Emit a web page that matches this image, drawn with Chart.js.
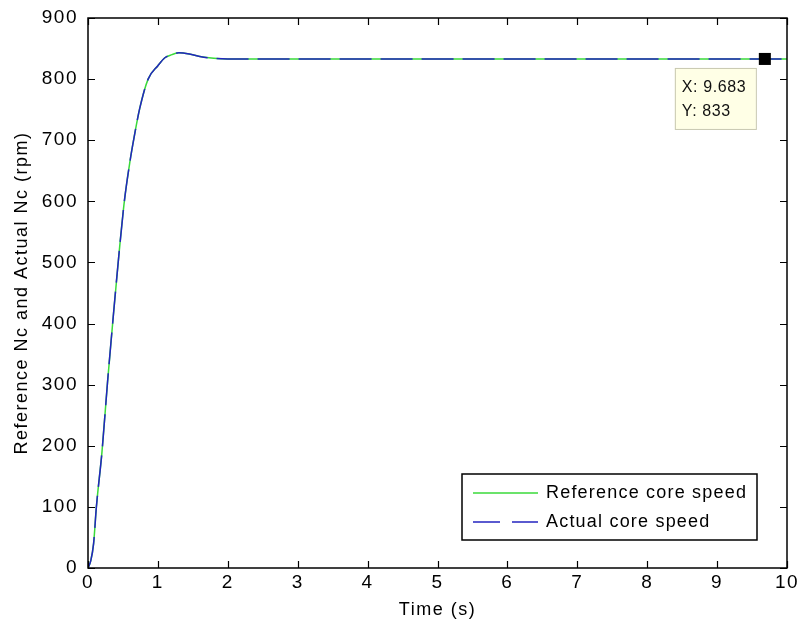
<!DOCTYPE html>
<html>
<head>
<meta charset="utf-8">
<title>Core speed</title>
<script src="https://cdn.jsdelivr.net/npm/chart.js"></script>
<style>
    html, body { margin: 0; padding: 0; background: #fff; }
    #wrap { width: 797px; height: 628px; }
</style>
</head>
<body>
<div id="wrap"><canvas id="speedChart" width="797" height="628"></canvas></div>
<script>
    // values (time in s, speed in rpm)
    const timeValues = [0, 0.04, 0.08, 0.12, 0.2, 0.28, 0.36, 0.44, 0.52, 0.6, 0.66, 0.74, 0.86, 1.0, 1.1, 1.2, 1.3, 1.45, 1.6, 1.8, 2.0, 2.5, 10];
    const referenceSpeed = [0, 12, 40, 100, 190, 305, 410, 510, 600, 665, 705, 752, 800, 822, 835, 840, 843, 841, 837, 834, 833, 833, 833];
    const actualSpeed = [0, 12, 40, 100, 190, 305, 410, 510, 600, 665, 705, 752, 800, 822, 835, 840, 843, 841, 837, 834, 833, 833, 833];
    const tipPoint = { x: 9.683, y: 833 };
    const xTicks = [0, 1, 2, 3, 4, 5, 6, 7, 8, 9, 10];
    const yTicks = [0, 100, 200, 300, 400, 500, 600, 700, 800, 900];
    const seriesLabels = ['Reference core speed', 'Actual core speed'];

    const FONT = '"Liberation Sans", Arial, sans-serif';
    const GREEN = '#3ada3a';
    const BLUE = '#2424c0';

    function toPoints(xs, ys) {
        return xs.map((x, i) => ({ x: x, y: ys[i] }));
    }

    // the old MATLAB text is wider spaced than canvas text
    const spacing = {
        id: 'spacing',
        beforeUpdate(chart) { chart.ctx.letterSpacing = '1.5px'; },
        beforeDraw(chart) { chart.ctx.letterSpacing = '1.5px'; }
    };

    // MATLAB style box: inward ticks on all four sides, legend inside, data tip
    const matlabAxes = {
        id: 'matlabAxes',
        afterDatasetsDraw(chart) {
            const ctx = chart.ctx;
            const a = chart.chartArea;
            const xs = chart.scales.x;
            const ys = chart.scales.y;
            ctx.save();
            ctx.strokeStyle = '#000';
            ctx.lineWidth = 1.5;
            ctx.strokeRect(a.left, a.top, a.right - a.left, a.bottom - a.top);
            ctx.beginPath();
            xTicks.forEach(v => {
                const px = Math.round(xs.getPixelForValue(v)) + 0.5;
                ctx.moveTo(px, a.bottom); ctx.lineTo(px, a.bottom - 7);
                ctx.moveTo(px, a.top); ctx.lineTo(px, a.top + 7);
            });
            yTicks.forEach(v => {
                const py = Math.round(ys.getPixelForValue(v)) + 0.5;
                ctx.moveTo(a.left, py); ctx.lineTo(a.left + 7, py);
                ctx.moveTo(a.right, py); ctx.lineTo(a.right - 7, py);
            });
            ctx.lineWidth = 1.2;
            ctx.stroke();

            // legend box
            const lx = 462, ly = 474, lw = 295, lh = 66;
            ctx.fillStyle = '#fff';
            ctx.fillRect(lx, ly, lw, lh);
            ctx.lineWidth = 1.5;
            ctx.strokeRect(lx, ly, lw, lh);
            ctx.font = '18px ' + FONT;
            ctx.letterSpacing = '1.2px';
            ctx.fillStyle = '#000';
            ctx.textBaseline = 'middle';
            ctx.textAlign = 'left';
            const rows = [ly + 19, ly + 48];
            ctx.strokeStyle = GREEN;
            ctx.setLineDash([]);
            ctx.beginPath(); ctx.moveTo(lx + 11, rows[0]); ctx.lineTo(lx + 76, rows[0]); ctx.stroke();
            ctx.strokeStyle = BLUE;
            ctx.setLineDash([27, 12]);
            ctx.beginPath(); ctx.moveTo(lx + 11, rows[1]); ctx.lineTo(lx + 76, rows[1]); ctx.stroke();
            ctx.setLineDash([]);
            ctx.fillText(seriesLabels[0], lx + 84, rows[0]);
            ctx.fillText(seriesLabels[1], lx + 84, rows[1]);

            // data tip box, placed from the marker's pixel position
            const mx = xs.getPixelForValue(tipPoint.x);
            const my = ys.getPixelForValue(tipPoint.y);
            const bx = mx - 90, by = my + 9, bw = 81, bh = 61;
            ctx.fillStyle = '#ffffe6';
            ctx.fillRect(bx, by, bw, bh);
            ctx.strokeStyle = '#c8c8b0';
            ctx.lineWidth = 1;
            ctx.strokeRect(bx + 0.5, by + 0.5, bw, bh);
            ctx.fillStyle = '#111';
            ctx.font = '16px ' + FONT;
            ctx.letterSpacing = '0.6px';
            ctx.fillText('X: ' + tipPoint.x, bx + 7, by + 20);
            ctx.fillText('Y: ' + tipPoint.y, bx + 7, by + 44);
            ctx.restore();
        }
    };

    const speedData = {
        datasets: [{
            label: seriesLabels[0],
            data: toPoints(timeValues, referenceSpeed),
            borderColor: GREEN,
            borderWidth: 1.5,
            pointRadius: 0,
            cubicInterpolationMode: 'monotone',
            order: 2
        },
        {
            label: seriesLabels[1],
            data: toPoints(timeValues, actualSpeed),
            borderColor: BLUE,
            borderWidth: 1.5,
            borderDash: [32, 9],
            pointRadius: 0,
            cubicInterpolationMode: 'monotone',
            order: 1
        },
        {
            label: 'tip',
            data: [tipPoint],
            pointStyle: 'rect',
            pointRadius: 8.5,
            pointBorderWidth: 0,
            backgroundColor: '#000',
            borderColor: '#000',
            showLine: false,
            order: 0
        }]
    };

    const speedConfig = {
        type: 'line',
        data: speedData,
        plugins: [spacing, matlabAxes],
        options: {
            responsive: false,
            animation: false,
            layout: { padding: { left: 0, right: 10, top: 18, bottom: 0 } },
            plugins: {
                legend: { display: false },
                tooltip: { enabled: false }
            },
            scales: {
                x: {
                    type: 'linear',
                    min: 0,
                    max: 10,
                    afterFit: s => { s.height = 60; s.paddingLeft = 0; s.paddingRight = 0; },
                    afterBuildTicks: s => { s.ticks = xTicks.map(v => ({ value: v })); },
                    grid: { display: false, drawTicks: false, tickLength: 0 },
                    border: { display: false },
                    ticks: { color: '#000', font: { family: FONT, size: 19 }, padding: 3, maxRotation: 0 },
                    title: { display: true, text: 'Time (s)', color: '#000', font: { family: FONT, size: 18 }, padding: { top: 0, bottom: 7 } }
                },
                y: {
                    min: 0,
                    max: 900,
                    afterFit: s => { s.width = 88; s.paddingTop = 0; s.paddingBottom = 0; },
                    afterBuildTicks: s => { s.ticks = yTicks.map(v => ({ value: v })); },
                    grid: { display: false, drawTicks: false, tickLength: 0 },
                    border: { display: false },
                    ticks: { color: '#000', font: { family: FONT, size: 19 }, padding: 10 },
                    title: { display: true, text: 'Reference Nc and Actual Nc (rpm)', color: '#000', font: { family: FONT, size: 18 }, padding: { top: 11, bottom: 2 } }
                }
            }
        }
    };

    const speedChart = new Chart(document.getElementById('speedChart'), speedConfig);
</script>
</body>
</html>
